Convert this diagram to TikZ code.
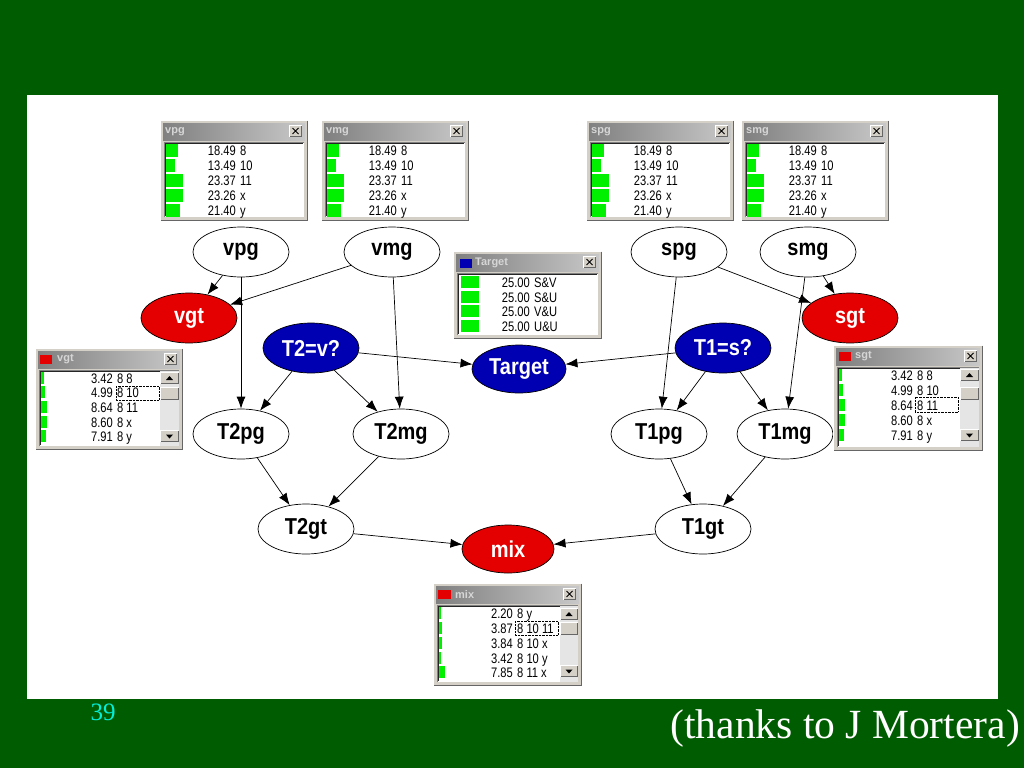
\documentclass[tikz,border=0pt]{standalone}
\usepackage{fontspec}
\setmainfont{Liberation Serif}
\newfontfamily\lsans{Liberation Sans}
\usepackage{graphicx}
\usetikzlibrary{shapes.geometric,arrows.meta}

\definecolor{slidegreen}{RGB}{0,92,0}
\definecolor{nodered}{RGB}{228,0,0}
\definecolor{nodeblue}{RGB}{0,0,178}
\definecolor{bargreen}{RGB}{0,240,0}
\definecolor{winface}{RGB}{212,208,200}
\definecolor{windark}{RGB}{128,128,128}
\definecolor{titleL}{RGB}{128,128,128}
\definecolor{titleR}{RGB}{200,200,200}
\definecolor{titletext}{RGB}{214,214,214}
\definecolor{pagecyan}{RGB}{0,240,220}

\tikzset{
  gnode/.style={ellipse, draw=black, line width=0.7pt, minimum width=96pt, minimum height=50pt,
    inner sep=0pt, font=\lsans\bfseries\fontsize{20}{20}\selectfont},
  plainnode/.style={gnode, fill=white, text=black},
  rednode/.style={gnode, fill=nodered, text=white},
  bluenode/.style={gnode, fill=nodeblue, text=white},
  link/.style={draw=black, line width=0.7pt, -{Latex[length=12pt,width=9pt]}},
  rowtext/.style={font=\lsans\fontsize{12}{12}\selectfont, inner sep=0pt, text=black},
  wtitle/.style={font=\lsans\bfseries\fontsize{11}{11}\selectfont, inner sep=0pt, text=titletext},
}

\newcommand\vs[1]{\scalebox{0.93}[1.15]{#1}}
\newcommand\vsb[1]{\scalebox{1}[1.15]{#1}}

% raised 3D box: x1 y1 x2 y2
\newcommand\wbox[4]{%
  \fill[winface] (#1,#2) rectangle (#3,#4);
  \draw[white,line width=1pt] (#1+0.5,#4-0.5) -- (#1+0.5,#2+0.5) -- (#3-0.5,#2+0.5);
  \draw[black!60,line width=1pt] (#3-0.5,#2+0.5) -- (#3-0.5,#4-0.5) -- (#1+0.5,#4-0.5);
}

% window frame: x y w h title titlex name
\newcommand\winframe[7]{%
  \wbox{#1}{#2}{#1+#3}{#2+#4}
  \shade[left color=titleL,right color=titleR] (#1+3,#2+3) rectangle (#1+#3-3,#2+20);
  \node[wtitle,anchor=west] (#7title) at (#1+#6,#2+11.5) {#5};
  \wbox{#1+#3-19}{#2+5}{#1+#3-6}{#2+17}
  \draw[line width=1pt] (#1+#3-15.5,#2+8) -- (#1+#3-9.5,#2+14) (#1+#3-15.5,#2+14) -- (#1+#3-9.5,#2+8);
  \fill[white] (#1+4,#2+22) rectangle (#1+#3-4,#2+#4-4);
  \draw[windark] (#1+4.5,#2+#4-4) -- (#1+4.5,#2+22.5) -- (#1+#3-4,#2+22.5);
  \draw[black!85] (#1+5.5,#2+#4-5) -- (#1+5.5,#2+23.5) -- (#1+#3-5,#2+23.5);
}

% row: name barx y barw barh numright num label
\newcommand\wrow[8]{%
  \fill[bargreen] (#2,#3-#5/2) rectangle ++(#4,#5);
  \node[rowtext,anchor=base east] (#1n) at (#6,#3+5) {\vs{#7}};
  \node[rowtext,anchor=base west] (#1l) at (#6+4,#3+5) {\vs{#8}};
}

% scrollbar: x1 x2 ytop ybot upTop thumbTop downTop
\newcommand\scrollbar[7]{%
  \fill[black!10] (#1,#3) rectangle (#2,#4);
  \wbox{#1}{#5}{#2}{#5+12}
  \fill (#1/2+#2/2-3.5,#5+8) -- ++(7,0) -- ++(-3.5,-4) -- cycle;
  \wbox{#1}{#6}{#2}{#6+13}
  \wbox{#1}{#7}{#2}{#7+12}
  \fill (#1/2+#2/2-3.5,#7+4.5) -- ++(7,0) -- ++(-3.5,4) -- cycle;
}

% top panel: name x0 y0
\newcommand\topwin[3]{%
  \winframe{#2}{#3}{148}{101}{#1}{5}{#1}
  \wrow{#1a}{#2+6}{#3+30}{12}{13}{#2+76}{18.49}{8}
  \wrow{#1b}{#2+6}{#3+45}{9}{13}{#2+76}{13.49}{10}
  \wrow{#1c}{#2+6}{#3+60}{17}{13}{#2+76}{23.37}{11}
  \wrow{#1d}{#2+6}{#3+75}{17}{13}{#2+76}{23.26}{x}
  \wrow{#1e}{#2+6}{#3+90}{14}{13}{#2+76}{21.40}{y}
}

\begin{document}
\begin{tikzpicture}[x=1pt,y=-1pt]
\useasboundingbox (0,0) rectangle (1024,768);
\fill[slidegreen] (0,0) rectangle (1024,768);
\fill[white] (27,95) rectangle (998,699);

% graph nodes
\node[plainnode] (vpg) at (241,252) {\vsb{vpg}};
\node[plainnode] (vmg) at (392,252) {\vsb{vmg}};
\node[plainnode] (spg) at (679,252) {\vsb{spg}};
\node[plainnode] (smg) at (808,252) {\vsb{smg}};
\node[rednode] (vgt) at (189,318) {\vsb{vgt}};
\node[rednode] (sgt) at (850,318) {\vsb{sgt}};
\node[bluenode] (t2v) at (311,348) {\vsb{T2=v?}};
\node[bluenode] (t1s) at (723,348) {\vsb{T1=s?}};
\node[bluenode, minimum width=94pt, minimum height=48pt] (target) at (519,369) {\vsb{Target}};
\node[plainnode] (t2pg) at (241,434) {\vsb{T2pg}};
\node[plainnode] (t2mg) at (401,434) {\vsb{T2mg}};
\node[plainnode] (t1pg) at (659,434) {\vsb{T1pg}};
\node[plainnode] (t1mg) at (785,434) {\vsb{T1mg}};
\node[plainnode] (t2gt) at (306,529) {\vsb{T2gt}};
\node[plainnode] (t1gt) at (703,529) {\vsb{T1gt}};
\node[rednode, minimum width=92pt, minimum height=48pt] (mix) at (508,549) {\vsb{mix}};

% edges
\draw[link] (vpg) -- (vgt);
\draw[link] (vmg) -- (vgt);
\draw[link] (vpg) -- (t2pg);
\draw[link] (vmg) -- (t2mg);
\draw[link] (t2v) -- (t2pg);
\draw[link] (t2v) -- (t2mg);
\draw[link] (t2v) -- (target);
\draw[link] (t1s) -- (target);
\draw[link] (t1s) -- (t1pg);
\draw[link] (t1s) -- (t1mg);
\draw[link] (spg) -- (t1pg);
\draw[link] (smg) -- (t1mg);
\draw[link] (spg) -- (sgt);
\draw[link] (smg) -- (sgt);
\draw[link] (t2pg) -- (t2gt);
\draw[link] (t2mg) -- (t2gt);
\draw[link] (t1pg) -- (t1gt);
\draw[link] (t1mg) -- (t1gt);
\draw[link] (t2gt) -- (mix);
\draw[link] (t1gt) -- (mix);

% top panels
\topwin{vpg}{160}{120}
\topwin{vmg}{321}{120}
\topwin{spg}{586}{120}
\topwin{smg}{741}{120}

% Target panel
\winframe{453}{251}{149}{88}{Target}{22}{targetwin}
\fill[nodeblue] (460,259) rectangle (472,268);
\wrow{tga}{461}{282}{18}{12}{530}{25.00}{S\&V}
\wrow{tgb}{461}{297}{18}{12}{530}{25.00}{S\&U}
\wrow{tgc}{461}{311}{18}{12}{530}{25.00}{V\&U}
\wrow{tgd}{461}{326}{18}{12}{530}{25.00}{U\&U}

% vgt panel
\winframe{35}{348}{148}{102}{vgt}{22}{vgtwin}
\fill[nodered] (40,355) rectangle (52,364);
\wrow{vga}{41}{378}{2.5}{12}{113}{3.42}{8 8}
\wrow{vgb}{41}{392}{3.5}{12}{113}{4.99}{8 10}
\wrow{vgc}{41}{407}{6}{12}{113}{8.64}{8 11}
\wrow{vgd}{41}{422}{6}{12}{113}{8.60}{8 x}
\wrow{vge}{41}{436}{5}{12}{113}{7.91}{8 y}
\draw[densely dotted] (116,386) rectangle (159,400);
\scrollbar{160}{179}{371}{446}{372}{387}{430}

% sgt panel
\winframe{833}{345}{150}{106}{sgt}{22}{sgtwin}
\fill[nodered] (839,352) rectangle (851,361);
\wrow{sga}{839}{375}{2.5}{12}{913}{3.42}{8 8}
\wrow{sgb}{839}{390}{3.5}{12}{913}{4.99}{8 10}
\wrow{sgc}{839}{405}{6}{12}{913}{8.64}{8 11}
\wrow{sgd}{839}{420}{6}{12}{913}{8.60}{8 x}
\wrow{sge}{839}{435}{5}{12}{913}{7.91}{8 y}
\draw[densely dotted] (915,397) rectangle (958,412);
\scrollbar{960}{979}{368}{447}{369}{387}{429}

% mix panel
\winframe{433}{583}{149}{103}{mix}{22}{mixwin}
\fill[nodered] (438,590) rectangle (451,599);
\wrow{mxa}{439}{613}{1.5}{12}{513}{2.20}{8 y}
\wrow{mxb}{439}{628}{2.5}{12}{513}{3.87}{8 10 11}
\wrow{mxc}{439}{643}{2.5}{12}{513}{3.84}{8 10 x}
\wrow{mxd}{439}{658}{2.2}{12}{513}{3.42}{8 10 y}
\wrow{mxe}{439}{672}{5.5}{12}{513}{7.85}{8 11 x}
\draw[densely dotted] (515,621) rectangle (558,635);
\scrollbar{560}{578}{606}{682}{608}{622}{665}

% slide texts
\node[font=\fontsize{25}{25}\selectfont, text=pagecyan, inner sep=0pt] (pnum) at (103,712) {39};
\node[anchor=east, font=\fontsize{41.5}{41.5}\selectfont, text=white, inner sep=0pt] (thanks) at (1020,729) {(thanks to J Mortera)};
\end{tikzpicture}
\end{document}
